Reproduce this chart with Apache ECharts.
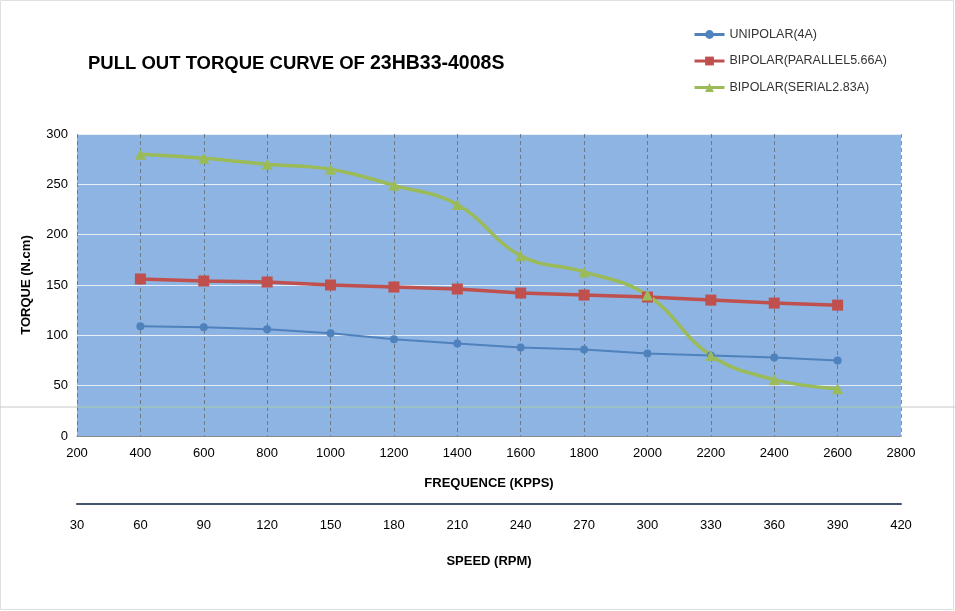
<!DOCTYPE html>
<html>
<head>
<meta charset="utf-8">
<script src="https://cdn.jsdelivr.net/npm/echarts@6/dist/echarts.min.js"></script>
<style>
  html,body{margin:0;padding:0;background:#fff;}
  #chart{width:955px;height:611px;}
</style>
</head>
<body>
<div id="chart"></div>
<script>
var freq=[400,600,800,1000,1200,1400,1600,1800,2000,2200,2400,2600];
var unipolar=[109,108,106,102,96,92,88,86,82,80,78,75];
var parallel=[156,154,153,150,148,146,142,140,138,135,132,130];
var serial=[280,276,270,265,249,230,179,163,140,80,56,47];
var seriesNames=['UNIPOLAR(4A)','BIPOLAR(PARALLEL5.66A)','BIPOLAR(SERIAL2.83A)'];

function pairs(arr){
  return arr.map(function(v,i){return [freq[i],v];});
}

var myChart=echarts.init(document.getElementById('chart'));
var font='Liberation Sans, Arial, sans-serif';
var option={
  animation:false,
  textStyle:{fontFamily:font},
  title:{
    left:83,top:49,
    text:'{a|PULL OUT TORQUE CURVE OF }{b|23HB33-4008S}',
    textStyle:{
      rich:{
        a:{fontSize:18.5,fontWeight:'bold',color:'#000',fontFamily:font},
        b:{fontSize:19.5,color:'#000',fontFamily:font}
      }
    }
  },
  legend:{
    orient:'vertical',left:688,top:23,itemGap:13.5,
    itemWidth:30,itemHeight:11,
    lineStyle:{width:3},
    textStyle:{fontSize:12.5,color:'#333',fontFamily:font},
    data:seriesNames
  },
  grid:{left:77,right:54,top:134,bottom:175,show:true,backgroundColor:'#8DB4E2',borderWidth:0},
  xAxis:[{
    type:'value',min:200,max:2800,interval:200,
    axisLine:{show:true,lineStyle:{color:'#8a8a8a'}},
    axisTick:{show:false},
    axisLabel:{color:'#000',fontSize:13,margin:11,formatter:function(v){return String(v);}},
    splitLine:{show:true,lineStyle:{color:'#5f5f5f',type:[4,3],width:1,opacity:0.7}},
    name:'FREQUENCE (KPPS)',nameLocation:'middle',nameGap:41,
    nameTextStyle:{fontWeight:'bold',fontSize:13,color:'#000'}
  },{
    type:'value',min:30,max:420,interval:30,position:'bottom',offset:68,
    axisLine:{show:true,onZero:false,lineStyle:{color:'#44546A',width:2}},
    axisTick:{show:false},
    axisLabel:{color:'#000',fontSize:13,margin:15,formatter:function(v){return String(v);}},
    splitLine:{show:false},
    name:'SPEED (RPM)',nameLocation:'middle',nameGap:51,
    nameTextStyle:{fontWeight:'bold',fontSize:13,color:'#000'}
  }],
  yAxis:{
    type:'value',min:0,max:300,interval:50,
    axisLine:{show:false},axisTick:{show:false},
    axisLabel:{color:'#000',fontSize:13,margin:9},
    splitLine:{show:true,lineStyle:{color:'#e8eef6',width:1}},
    name:'TORQUE (N.cm)',nameLocation:'middle',nameGap:44,
    nameTextStyle:{fontWeight:'bold',fontSize:13,color:'#000'}
  },
  graphic:[{
    type:'line',shape:{x1:0,y1:407,x2:77,y2:407},
    style:{stroke:'#c8c8c8',lineWidth:1},z:100,silent:true
  },{
    type:'line',shape:{x1:901,y1:407,x2:955,y2:407},
    style:{stroke:'#c8c8c8',lineWidth:1},z:100,silent:true
  },{
    type:'line',shape:{x1:77,y1:407,x2:901,y2:407},
    style:{stroke:'#a9d0a6',lineWidth:1},z:1,silent:true
  },{
    type:'rect',shape:{x:0.5,y:0.5,width:953,height:609},
    style:{fill:'none',stroke:'#e0e0e0',lineWidth:1},silent:true
  }],
  series:[{
    name:seriesNames[0],type:'line',xAxisIndex:0,data:pairs(unipolar),
    symbol:'circle',symbolSize:8,
    lineStyle:{color:'#4F81BD',width:2},itemStyle:{color:'#4F81BD'}
  },{
    name:seriesNames[1],type:'line',xAxisIndex:0,data:pairs(parallel),
    symbol:'rect',symbolSize:11,
    lineStyle:{color:'#C0504D',width:3.5},itemStyle:{color:'#C0504D'}
  },{
    name:seriesNames[2],type:'line',xAxisIndex:0,data:pairs(serial),
    symbol:'triangle',symbolSize:11,smooth:0.4,
    lineStyle:{color:'#9BBB59',width:3.5},itemStyle:{color:'#9BBB59'}
  }]
};
myChart.setOption(option);
</script>
</body>
</html>
